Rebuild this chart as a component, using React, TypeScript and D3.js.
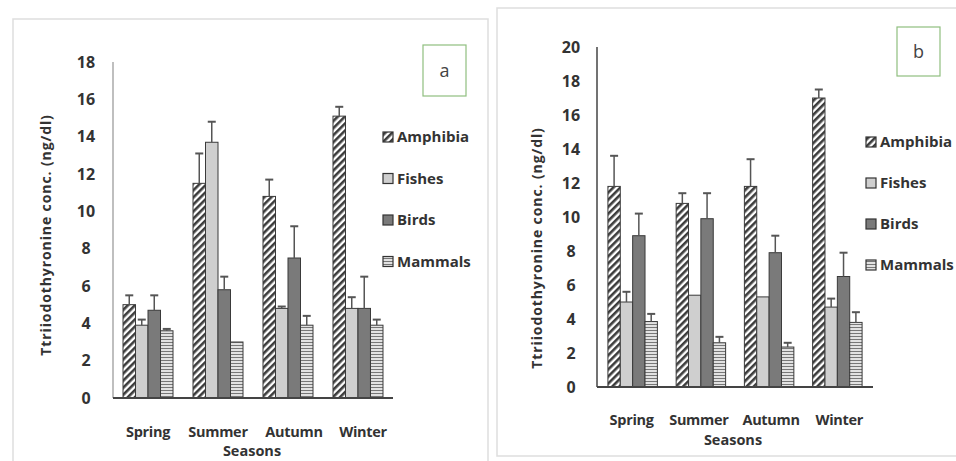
import * as d3 from "d3";

const seasons = ["Spring", "Summer", "Autumn", "Winter"];
const groups = ["Amphibia", "Fishes", "Birds", "Mammals"];

// panel a: mean and upper error (mean + sd)
const aAmphibia = [5.0, 11.5, 10.8, 15.1];
const aFishes = [3.9, 13.7, 4.8, 4.8];
const aBirds = [4.7, 5.8, 7.5, 4.8];
const aMammals = [3.6, 3.0, 3.9, 3.9];
const aAmphibiaErr = [5.5, 13.1, 11.7, 15.6];
const aFishesErr = [4.2, 14.8, 4.9, 5.4];
const aBirdsErr = [5.5, 6.5, 9.2, 6.5];
const aMammalsErr = [3.7, 3.0, 4.4, 4.2];

// panel b
const bAmphibia = [11.8, 10.8, 11.8, 17.0];
const bFishes = [5.0, 5.4, 5.3, 4.7];
const bBirds = [8.9, 9.9, 7.9, 6.5];
const bMammals = [3.85, 2.6, 2.35, 3.8];
const bAmphibiaErr = [13.6, 11.4, 13.4, 17.5];
const bFishesErr = [5.6, 5.4, 5.3, 5.2];
const bBirdsErr = [10.2, 11.4, 8.9, 7.9];
const bMammalsErr = [4.3, 2.95, 2.6, 4.4];

const aTicks = [0, 2, 4, 6, 8, 10, 12, 14, 16, 18];
const bTicks = [0, 2, 4, 6, 8, 10, 12, 14, 16, 18, 20];

const fills = ["url(#pAmph)", "url(#pFish)", "url(#pBird)", "url(#pMamm)"];
const font = "'Open Sans', 'Liberation Sans', sans-serif";

function Panel(props: any) {
  const {
    frame, x0, x1, yTop, yBottom, maxY, ticks, series, errs,
    pad, outer, tickX, catY, seasonsY, seasonsX, ylabX, ylabY,
    legX, legY, legGap, box, letter, yAxisColor,
  } = props;
  const x = d3.scaleBand().domain(seasons).range([x0, x1]).paddingInner(pad).paddingOuter(outer);
  const xi = d3.scaleBand().domain(groups).range([0, x.bandwidth()]).padding(0);
  const y = d3.scaleLinear().domain([0, maxY]).range([yBottom, yTop]);
  return (
    <g>
      <rect x={frame[0]} y={frame[1]} width={frame[2]} height={frame[3]} fill="#fff" stroke="#dedede" strokeWidth={1.5} />
      <line x1={x0} x2={x0} y1={yTop} y2={yBottom} stroke={yAxisColor} strokeWidth={1.5} />
      {ticks.map((t: number) => (
        <text key={t} x={tickX} y={y(t)} dy="0.35em" textAnchor="middle" fontSize={16} fontWeight={700} fill="#333" fontFamily={font}>{t}</text>
      ))}
      {seasons.map((s, si) => (
        <g key={s}>
          {groups.map((g, gi) => {
            const bx = (x(s) as number) + (xi(g) as number);
            const w = xi.bandwidth();
            const v = series[gi][si];
            const e = errs[gi][si];
            return (
              <g key={g}>
                <rect x={bx} y={y(v)} width={w} height={y(0) - y(v)} fill={fills[gi]} stroke="#3a3a3a" strokeWidth={1} />
                {e > v && (
                  <g stroke="#555" strokeWidth={1.5}>
                    <line x1={bx + w / 2} x2={bx + w / 2} y1={y(v)} y2={y(e)} />
                    <line x1={bx + w / 2 - 4} x2={bx + w / 2 + 4} y1={y(e)} y2={y(e)} strokeWidth={2} />
                  </g>
                )}
              </g>
            );
          })}
          <text x={(x(s) as number) + x.bandwidth() / 2 + catY[1][si]} y={catY[0]} textAnchor="middle" fontSize={14.5} fontWeight={700} fill="#333" fontFamily={font} letterSpacing={-0.3}>{s}</text>
        </g>
      ))}
      <line x1={x0} x2={x1} y1={yBottom} y2={yBottom} stroke="#444" strokeWidth={1.8} />
      <text x={seasonsX} y={seasonsY} textAnchor="middle" fontSize={14.5} fontWeight={700} fill="#333" fontFamily={font}>Seasons</text>
      <text transform={`translate(${ylabX},${ylabY}) rotate(-90)`} textAnchor="middle" fontSize={14} fontWeight={700} fill="#333" fontFamily={font} letterSpacing={0.9}>Ttriiodothyronine  conc.  (ng/dl)</text>
      {groups.map((g, gi) => (
        <g key={g}>
          <rect x={legX} y={legY + gi * legGap - 5} width={10} height={10} fill={fills[gi]} stroke="#333" strokeWidth={1.2} />
          <text x={legX + 14} y={legY + gi * legGap} dy="0.35em" fontSize={15} fontWeight={700} fill="#333" fontFamily={font}>{g}</text>
        </g>
      ))}
      <rect x={box[0]} y={box[1]} width={box[2]} height={box[3]} fill="#fff" stroke="#8fbf7f" strokeWidth={1.2} />
      <text x={box[0] + box[2] / 2} y={box[1] + box[3] / 2} dy="0.35em" textAnchor="middle" fontSize={18} fill="#444" fontFamily={font}>{letter}</text>
    </g>
  );
}

export default function App() {
  return (
    <svg width={956} height={461} style={{ position: "absolute", left: 0, top: 0 }}>
      <defs>
        <pattern id="pAmph" width={5} height={5} patternUnits="userSpaceOnUse" patternTransform="rotate(45)">
          <rect width={5} height={5} fill="#fff" />
          <rect width={2.6} height={5} fill="#3c3c3c" />
        </pattern>
        <pattern id="pFish" width={4} height={4} patternUnits="userSpaceOnUse">
          <rect width={4} height={4} fill="#cfcfcf" />
        </pattern>
        <pattern id="pBird" width={4} height={4} patternUnits="userSpaceOnUse">
          <rect width={4} height={4} fill="#7a7a7a" />
        </pattern>
        <pattern id="pMamm" width={4} height={3} patternUnits="userSpaceOnUse">
          <rect width={4} height={3} fill="#e2e2e2" />
          <rect width={4} height={1} fill="#777" />
        </pattern>
      </defs>
      <rect width={956} height={461} fill="#fff" />
      <Panel
        frame={[13, 19, 475, 445]}
        x0={113} x1={393} yTop={62} yBottom={398} maxY={18} ticks={aTicks}
        series={[aAmphibia, aFishes, aBirds, aMammals]}
        errs={[aAmphibiaErr, aFishesErr, aBirdsErr, aMammalsErr]}
        pad={0.2857} outer={0.143} tickX={86}
        catY={[437, [0, 0, 6, 5]]} seasonsX={252} seasonsY={456}
        ylabX={51} ylabY={235}
        legX={383} legY={137} legGap={41.5}
        box={[423, 45, 43, 51]} letter="a" yAxisColor="#aaa"
      />
      <Panel
        frame={[497, 8, 470, 448]}
        x0={597} x1={873} yTop={47} yBottom={387} maxY={20} ticks={bTicks}
        series={[bAmphibia, bFishes, bBirds, bMammals]}
        errs={[bAmphibiaErr, bFishesErr, bBirdsErr, bMammalsErr]}
        pad={0.275} outer={0.16} tickX={571}
        catY={[425, [-1, -2, 2, 2]]} seasonsX={733} seasonsY={445}
        ylabX={542} ylabY={248}
        legX={866} legY={142} legGap={41}
        box={[897, 27, 43, 49]} letter="b" yAxisColor="#444"
      />
    </svg>
  );
}
